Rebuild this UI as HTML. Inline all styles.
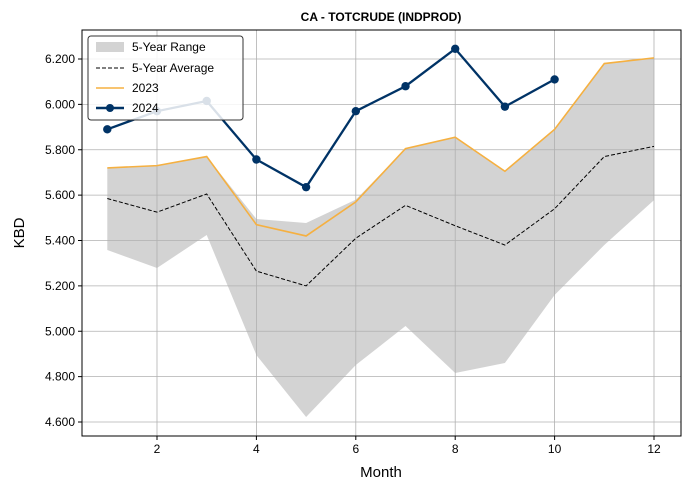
<!DOCTYPE html>
<html><head><meta charset="utf-8"><style>
body{margin:0;background:#fff;font-family:"Liberation Sans",sans-serif}
svg text{font-family:"Liberation Sans",sans-serif}
</style></head><body>
<svg id="chart" width="690" height="490" xmlns="http://www.w3.org/2000/svg">
<text x="381" y="21" text-anchor="middle" font-size="12" font-weight="bold">CA - TOTCRUDE (INDPROD)</text>
<g id="bandg"></g><g id="grid"></g><g id="marks"></g><g id="axes"></g>
<text x="381" y="477" text-anchor="middle" font-size="15">Month</text>
<text transform="translate(24,233) rotate(-90)" text-anchor="middle" font-size="15">KBD</text>
<g>
<rect x="88" y="36" width="155" height="84" rx="3" fill="#fff" fill-opacity="0.85" stroke="#333" stroke-width="1"/>
<rect x="96" y="42" width="28" height="10" fill="#d3d3d3"/>
<text x="132" y="51" font-size="12">5-Year Range</text>
<line x1="96" y1="68" x2="124" y2="68" stroke="#000" stroke-dasharray="4,2"/>
<text x="132" y="72" font-size="12">5-Year Average</text>
<line x1="96" y1="88" x2="124" y2="88" stroke="#f5b041" stroke-width="1.5"/>
<text x="132" y="92" font-size="12">2023</text>
<line x1="96" y1="108" x2="124" y2="108" stroke="#003366" stroke-width="2.5"/>
<circle cx="110" cy="108" r="4" fill="#003366"/>
<text x="132" y="112" font-size="12">2024</text>
</g>
</svg>
<script>
const months=[1,2,3,4,5,6,7,8,9,10,11,12];
const rangeMax=[5.72,5.73,5.77,5.495,5.477,5.58,5.805,5.855,5.705,5.89,6.18,6.205];
const rangeMin=[5.358,5.279,5.424,4.895,4.622,4.851,5.023,4.816,4.86,5.16,5.38,5.578];
const avg=[5.585,5.525,5.605,5.265,5.2,5.41,5.555,5.465,5.38,5.54,5.77,5.815];
const y2023=[5.72,5.73,5.77,5.47,5.42,5.57,5.805,5.855,5.705,5.89,6.18,6.205];
const y2024=[5.89,5.97,6.015,5.757,5.635,5.97,6.08,6.245,5.99,6.11];
const xTicks=[2,4,6,8,10,12];
const yTicks=[4.6,4.8,5.0,5.2,5.4,5.6,5.8,6.0,6.2];
const PL=82,PR=681,PT=30,PB=436;
const X=m=>157+(m-2)*49.7;
const Y=v=>422-(v-4.6)*226.875;
const NS="http://www.w3.org/2000/svg";
function mk(p,t,a){const e=document.createElementNS(NS,t);for(const k in a)e.setAttribute(k,a[k]);document.getElementById(p).appendChild(e);return e;}
xTicks.forEach(m=>{
 const g=mk('grid','line',{x1:X(m),x2:X(m),y1:PT,y2:PB,stroke:'#b0b0b0','stroke-width':0.8});
 
 
 mk('axes','line',{x1:X(m),x2:X(m),y1:PB,y2:PB+4,stroke:'#000'});
 const t=mk('axes','text',{x:X(m),y:PB+17,'text-anchor':'middle','font-size':12});t.textContent=m;
 
 
});
yTicks.forEach(v=>{
 const g=mk('grid','line',{x1:PL,x2:PR,y1:Y(v),y2:Y(v),stroke:'#b0b0b0','stroke-width':0.8});
 
 
 mk('axes','line',{x1:PL-4,x2:PL,y1:Y(v),y2:Y(v),stroke:'#000'});
 const t=mk('axes','text',{x:PL-7,y:Y(v)+4,'text-anchor':'end','font-size':12});
 t.textContent=v.toFixed(3);
 
 
});
mk('axes','rect',{x:PL,y:PT,width:PR-PL,height:PB-PT,fill:'none',stroke:'#000'});
const upperPts=months.map((m,i)=>X(m)+','+Y(rangeMax[i]));
const lowerPts=months.map((m,i)=>X(m)+','+Y(rangeMin[i])).reverse();
const band=mk('bandg','polygon',{points:upperPts.concat(lowerPts).join(' '),fill:'#d3d3d3'});


const a=mk('marks','polyline',{points:months.map((m,i)=>X(m)+','+Y(avg[i])).join(' '),fill:'none',stroke:'#000','stroke-width':1,'stroke-dasharray':'4,2'});


const l3=mk('marks','polyline',{points:months.map((m,i)=>X(m)+','+Y(y2023[i])).join(' '),fill:'none',stroke:'#f5b041','stroke-width':1.6});


const l4=mk('marks','polyline',{points:y2024.map((v,i)=>X(months[i])+','+Y(v)).join(' '),fill:'none',stroke:'#003366','stroke-width':2.3});


y2024.forEach((v,i)=>{
 const c=mk('marks','circle',{cx:X(months[i]),cy:Y(v),r:4.2,fill:'#003366'});
 
 
});
</script>
</body></html>
